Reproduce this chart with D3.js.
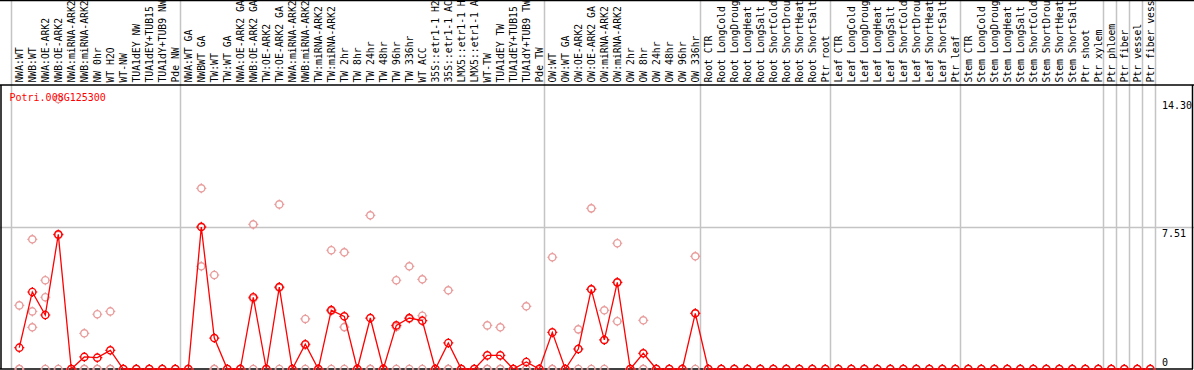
<!DOCTYPE html>
<html>
<head>
<meta charset="utf-8">
<script src="https://cdn.jsdelivr.net/npm/d3@7"></script>
<style>
  body { margin: 0; background: #fff; }
  text { font-family: "DejaVu Sans Mono", "Liberation Mono", monospace; font-size: 10px; }
  .collabel { font-size: 9.75px; }
</style>
</head>
<body>
<svg id="chart"></svg>
<script>
// sample labels, one per column
var labelsNW = ["NWA:WT","NWB:WT","NWA:OE-ARK2","NWB:OE-ARK2","NWA:miRNA-ARK2","NWB:miRNA-ARK2","NW 0hr","WT H2O","WT-NW","TUA1dEY NW","TUA1dEY+TUB15","TUA1dY+TUB9 NW","Pde NW"]
var labelsTW = ["NWA:WT GA","NWBWT GA","TW:WT","TW:WT GA","NWA:OE-ARK2 GA","NWB:OE-ARK2 GA","TW:OE-ARK2","TW:OE-ARK2 GA","NWA:miRNA-ARK2","NWB:miRNA-ARK2","TW:miRNA-ARK2","TW:miRNA-ARK2","TW 2hr","TW 8hr","TW 24hr","TW 48hr","TW 96hr","TW 336hr","WT ACC","35S::etr1-1 H2","35S::etr1-1 AC","LMX5::etr1-1 H","LMX5::etr1-1 A","WT-TW","TUA1dEY TW","TUA1dEY+TUB15","TUA1dY+TUB9 TW","Pde TW"]
var labelsOW = ["OW:WT","OW:WT GA","OW:OE-ARK2","OW:OE-ARK2 GA","OW:miRNA-ARK2","OW:miRNA-ARK2","OW 2hr","OW 8hr","OW 24hr","OW 48hr","OW 96hr","OW 336hr"]
var labelsRoot = ["Root CTR","Root LongCold","Root LongDroug","Root LongHeat","Root LongSalt","Root ShortCold","Root ShortDrou","Root ShortHeat","Root ShortSalt","Ptr root"]
var labelsLeaf = ["Leaf CTR","Leaf LongCold","Leaf LongDroug","Leaf LongHeat","Leaf LongSalt","Leaf ShortCold","Leaf ShortDrou","Leaf ShortHeat","Leaf ShortSalt","Ptr leaf"]
var labelsStem = ["Stem CTR","Stem LongCold","Stem LongDroug","Stem LongHeat","Stem LongSalt","Stem ShortCold","Stem ShortDrou","Stem ShortHeat","Stem ShortSalt","Ptr shoot","Ptr xylem"]
var labelsCell = ["Ptr phloem","Ptr fiber","Ptr vessel","Ptr fiber vess"]

// mean expression per column
var meanNW = [1.13,4.08,2.86,7.13,0,0.64,0.60,0.99,0,0,0,0,0]
var meanTW = [0,7.52,1.64,0,0,3.80,0,4.34,0,1.31,0,3.12,2.79,0,2.70,0,2.31,2.70,2.56,0,1.38,0,0,0.72,0.72,0,0.37,0]
var meanOW = [1.94,0,1.06,4.22,1.54,4.59,0,0.83,0,0,0,2.95]
var meanRoot = [0,0,0,0,0,0,0,0,0,0]
var meanLeaf = [0,0,0,0,0,0,0,0,0,0]
var meanStem = [0,0,0,0,0,0,0,0,0,0,0]
var meanCell = [0,0,0,0]

// replicate values per column
var repNW = [[3.37,0,0],[6.87,3.05,2.21],[4.70,3.80,0],[14.30,7.09,0],[0,0,0],[1.89,0,0],[2.90,0,0],[3.05,0,0],[0,0,0],[0,0,0],[0,0,0],[0,0,0],[0,0,0]]
var repTW = [[0,0,0],[9.57,7.55,5.44],[4.98,0,0],[0,0,0],[0,0,0],[7.66,3.74,0],[0,0,0],[8.72,4.30,0],[0,0,0],[2.65,1.28,0],[0,0,0],[6.29,3.07,0],[6.18,2.22,0],[0,0,0],[8.14,0,0],[0,0,0],[4.70,2.23,0],[5.44,2.66,0],[4.75,2.82,0],[0,0,0],[4.17,0,0],[0,0,0],[0,0,0],[2.31,0,0],[2.21,0,0],[0,0,0],[3.32,0,0],[0,0,0]]
var repOW = [[5.92,0,0],[0,0,0],[2.10,1.06,0],[8.51,4.22,0],[3.11,1.54,0],[6.66,4.58,2.53],[0,0,0],[2.58,0,0],[0,0,0],[0,0,0],[0,0,0],[5.97,2.95,0]]

var geneName = "Potri.008G125300"
var yTicks = [0, 7.51, 14.30]
var yMax = 14.30

var labels = [].concat(labelsNW, labelsTW, labelsOW, labelsRoot, labelsLeaf, labelsStem, labelsCell)
var means = [].concat(meanNW, meanTW, meanOW, meanRoot, meanLeaf, meanStem, meanCell)
var reps = [].concat(repNW, repTW, repOW)
while (reps.length < labels.length) reps.push([0,0,0])

// column index where each sample group starts (plus the last single cell types)
var groupStarts = [0, 13, 41, 53, 63, 73, 84, 85, 86, 87, 88]

var dimensions = {
        width: 1194,
        height: 370,
        headerBottom: 85,
        plotBottom: 369,
        left: 11,
        right: 1155
}

var svg = d3.select("#chart")
        .attr("width", dimensions.width)
        .attr("height", dimensions.height)

var xScale = d3.scaleBand()
        .domain(d3.range(labels.length))
        .range([dimensions.left, dimensions.right])
        .padding(0)

var yScale = d3.scaleLinear()
        .domain([0, yMax * 1.052])
        .range([dimensions.plotBottom, dimensions.headerBottom])

var px = function(i) { return xScale(i) + 8.3 }

// grey grid lines
svg.selectAll(".vgrid")
        .data(groupStarts)
        .enter()
        .append("line")
        .attr("x1", function(d) { return (d < labels.length ? xScale(d) : dimensions.right) + 0.5 })
        .attr("x2", function(d) { return (d < labels.length ? xScale(d) : dimensions.right) + 0.5 })
        .attr("y1", 0)
        .attr("y2", dimensions.plotBottom)
        .attr("stroke", "#c4c4c4")
        .attr("stroke-width", 1.5)

svg.append("line")
        .attr("x1", 0).attr("x2", dimensions.width)
        .attr("y1", Math.round(yScale(7.51)) + 0.5).attr("y2", Math.round(yScale(7.51)) + 0.5)
        .attr("stroke", "#c4c4c4")
        .attr("stroke-width", 1.5)

// black frame
var frame = svg.append("g").attr("stroke", "#000").attr("stroke-width", 1.5)
frame.append("line").attr("x1", 0).attr("x2", dimensions.width).attr("y1", 0.5).attr("y2", 0.5)
frame.append("line").attr("x1", 0).attr("x2", dimensions.width).attr("y1", dimensions.headerBottom).attr("y2", dimensions.headerBottom)
frame.append("line").attr("x1", 0).attr("x2", dimensions.width - 1).attr("y1", dimensions.plotBottom).attr("y2", dimensions.plotBottom)
frame.append("line").attr("x1", 1).attr("x2", 1).attr("y1", dimensions.headerBottom).attr("y2", dimensions.plotBottom)
frame.append("line").attr("x1", 1192.5).attr("x2", 1192.5).attr("y1", dimensions.headerBottom).attr("y2", dimensions.plotBottom)

// rotated column labels
svg.selectAll(".collabel")
        .data(labels)
        .enter()
        .append("text")
        .attr("class", "collabel")
        .attr("transform", function(d, i) { return "translate(" + (xScale(i) + 11.5) + ",82.5) rotate(-90)" })
        .attr("fill", "#000")
        .text(function(d) { return d })

// right value labels
svg.selectAll(".ylabel")
        .data(yTicks)
        .enter()
        .append("text")
        .attr("x", 1162)
        .attr("y", function(d) { return d == 0 ? 366 : yScale(d) + 10 })
        .attr("fill", "#000")
        .text(function(d) { return d == 0 ? "0" : d.toFixed(2) })

// marker: circle with tiny ticks
var markerPath = "M0,-5V-3.6M0,3.6V5M-5,0H-3.6M3.6,0H5"

function drawMarker(sel, color) {
        sel.append("circle")
                .attr("r", 3.6)
                .attr("fill", "none")
                .attr("stroke", color)
                .attr("stroke-width", 1.4)
        sel.append("path")
                .attr("d", markerPath)
                .attr("stroke", color)
                .attr("stroke-width", 1.2)
}

// replicates (pale)
var repPoints = []
reps.forEach(function(r, i) { r.forEach(function(v) { repPoints.push({i: i, v: v}) }) })

var repG = svg.selectAll(".rep")
        .data(repPoints)
        .enter()
        .append("g")
        .attr("transform", function(d) { return "translate(" + px(d.i) + "," + yScale(d.v) + ")" })
drawMarker(repG, "#e89c9c")

// mean line
var line = d3.line()
        .x(function(d, i) { return px(i) })
        .y(function(d) { return yScale(d) })

svg.append("path")
        .datum(means)
        .attr("d", line)
        .attr("fill", "none")
        .attr("stroke", "#ff0000")
        .attr("stroke-width", 1.3)

var meanG = svg.selectAll(".mean")
        .data(means)
        .enter()
        .append("g")
        .attr("transform", function(d, i) { return "translate(" + px(i) + "," + yScale(d) + ")" })
drawMarker(meanG, "#ff0000")

// gene name
svg.append("text")
        .attr("x", 9.5)
        .attr("y", 101)
        .attr("fill", "#ff0000")
        .text(geneName)
</script>
</body>
</html>
